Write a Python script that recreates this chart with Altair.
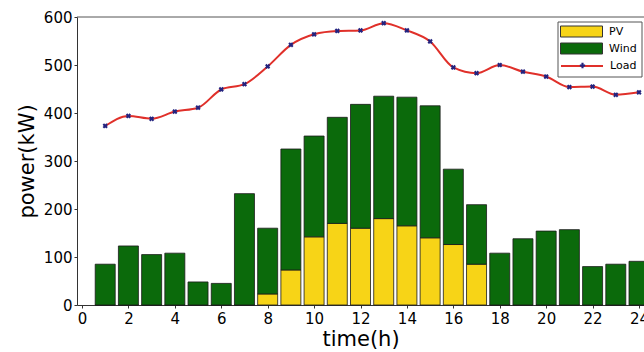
import altair as alt
import pandas as pd

hours = list(range(1, 25))
pv = [0, 0, 0, 0, 0, 0, 0, 23, 73, 142, 170, 160, 180, 165, 140, 126, 85, 0, 0, 0, 0, 0, 0, 0]
wind = [85, 123, 105, 108, 48, 45, 232, 137, 252, 210, 221, 258, 255, 268, 275, 157, 124, 108, 138, 154, 157, 80, 85, 91]
load = [373, 394, 388, 403, 411, 449, 460, 497, 542, 564, 571, 572, 587, 572, 549, 495, 483, 500, 486, 476, 454, 455, 438, 443]
bar_series = ["PV", "Wind"]
bar_colors = ["#f7d417", "#0b6a0b"]
line_series = ["Load"]
line_colors = ["#e0302a"]
marker_series = ["Load marker"]
x_ticks = list(range(0, 25, 2))
y_ticks = list(range(0, 601, 100))

rows = []
for h, p, w in zip(hours, pv, wind):
    rows.append({"t": h, "series": "PV", "value": p, "order": 0})
    rows.append({"t": h, "series": "Wind", "value": w, "order": 1})
bars_df = pd.DataFrame(rows)
load_df = pd.DataFrame({"t": hours, "load": load,
                        "lname": ["Load"] * len(hours),
                        "mname": ["Load marker"] * len(hours)})

FONT = "DejaVu Sans"

rect_path = "M-1,-1.1L7.4,-1.1L7.4,1.1L-1,1.1Z"
load_path = "M-1,0L7.4,0"

legend_common = dict(title=None, orient="none", symbolSize=100, labelOffset=38,
                     padding=0, rowPadding=2, labelFont=FONT, labelFontSize=11,
                     labelColor="black")

legend_bars = alt.Legend(legendX=483, legendY=9, symbolType=rect_path,
                         symbolStrokeColor="#333333", symbolStrokeWidth=1,
                         symbolOpacity=1, **legend_common)
legend_line = alt.Legend(legendX=483, legendY=43, symbolType=load_path,
                         symbolStrokeWidth=1.8, symbolOpacity=1, **legend_common)
legend_marker = alt.Legend(title=None, orient="none", legendX=502, legendY=45,
                           padding=0, symbolSize=28, labelExpr="''",
                           symbolFillColor="#23237f", symbolStrokeColor="#23237f",
                           symbolOpacity=1, labelFontSize=1)

x_scale = alt.Scale(domain=[0, 24], nice=False)
y_scale = alt.Scale(domain=[0, 600], nice=False)

x_axis = alt.Axis(values=x_ticks, title="time(h)", grid=False, tickSize=3,
                  labelPadding=3, titlePadding=2, domainColor="#333333",
                  tickColor="#333333")
y_axis = alt.Axis(values=y_ticks, title="power(kW)", grid=False, tickSize=3,
                  labelPadding=2, titlePadding=6, domainColor="#333333",
                  tickColor="#333333")

box = alt.Chart(pd.DataFrame({"k": [0]})).mark_rect(
    fill="white", stroke="#555555", strokeWidth=1
).encode(x=alt.value(481), x2=alt.value(565), y=alt.value(5), y2=alt.value(60))

bars = alt.Chart(bars_df).mark_bar(size=20, stroke="#1a1a1a", strokeWidth=0.8).encode(
    x=alt.X("t:Q", scale=x_scale, axis=x_axis),
    y=alt.Y("value:Q", stack="zero", scale=y_scale, axis=y_axis),
    color=alt.Color("series:N", scale=alt.Scale(domain=bar_series, range=bar_colors),
                    legend=legend_bars),
    order=alt.Order("order:Q"),
)

line = alt.Chart(load_df).mark_line(strokeWidth=2, interpolate="monotone").encode(
    x=alt.X("t:Q", scale=x_scale),
    y=alt.Y("load:Q", scale=y_scale),
    stroke=alt.Stroke("lname:N", scale=alt.Scale(domain=line_series, range=line_colors),
                      legend=legend_line),
)

points = alt.Chart(load_df).mark_point(filled=True, size=28, angle=45,
                                       color="#23237f", opacity=1).encode(
    x=alt.X("t:Q", scale=x_scale),
    y=alt.Y("load:Q", scale=y_scale),
    shape=alt.Shape("mname:N", scale=alt.Scale(domain=marker_series, range=["cross"]),
                    legend=legend_marker),
)

top = alt.Chart(pd.DataFrame({"y": [600]})).mark_rule(color="#555555", strokeWidth=1).encode(
    y=alt.Y("y:Q", scale=y_scale)
)

chart = alt.layer(box, bars, line, points, top).properties(
    width=567, height=288,
    background="white",
    autosize=alt.AutoSizeParams(type="none"),
    padding={"left": 77, "top": 17, "right": 0, "bottom": 47},
).configure_view(stroke=None).configure_axis(
    labelFont=FONT, labelFontSize=15, labelColor="black",
    titleFont=FONT, titleFontSize=21, titleFontWeight="normal", titleColor="black",
)

chart.save("out.html", embed_options={"renderer": "svg", "actions": False})
